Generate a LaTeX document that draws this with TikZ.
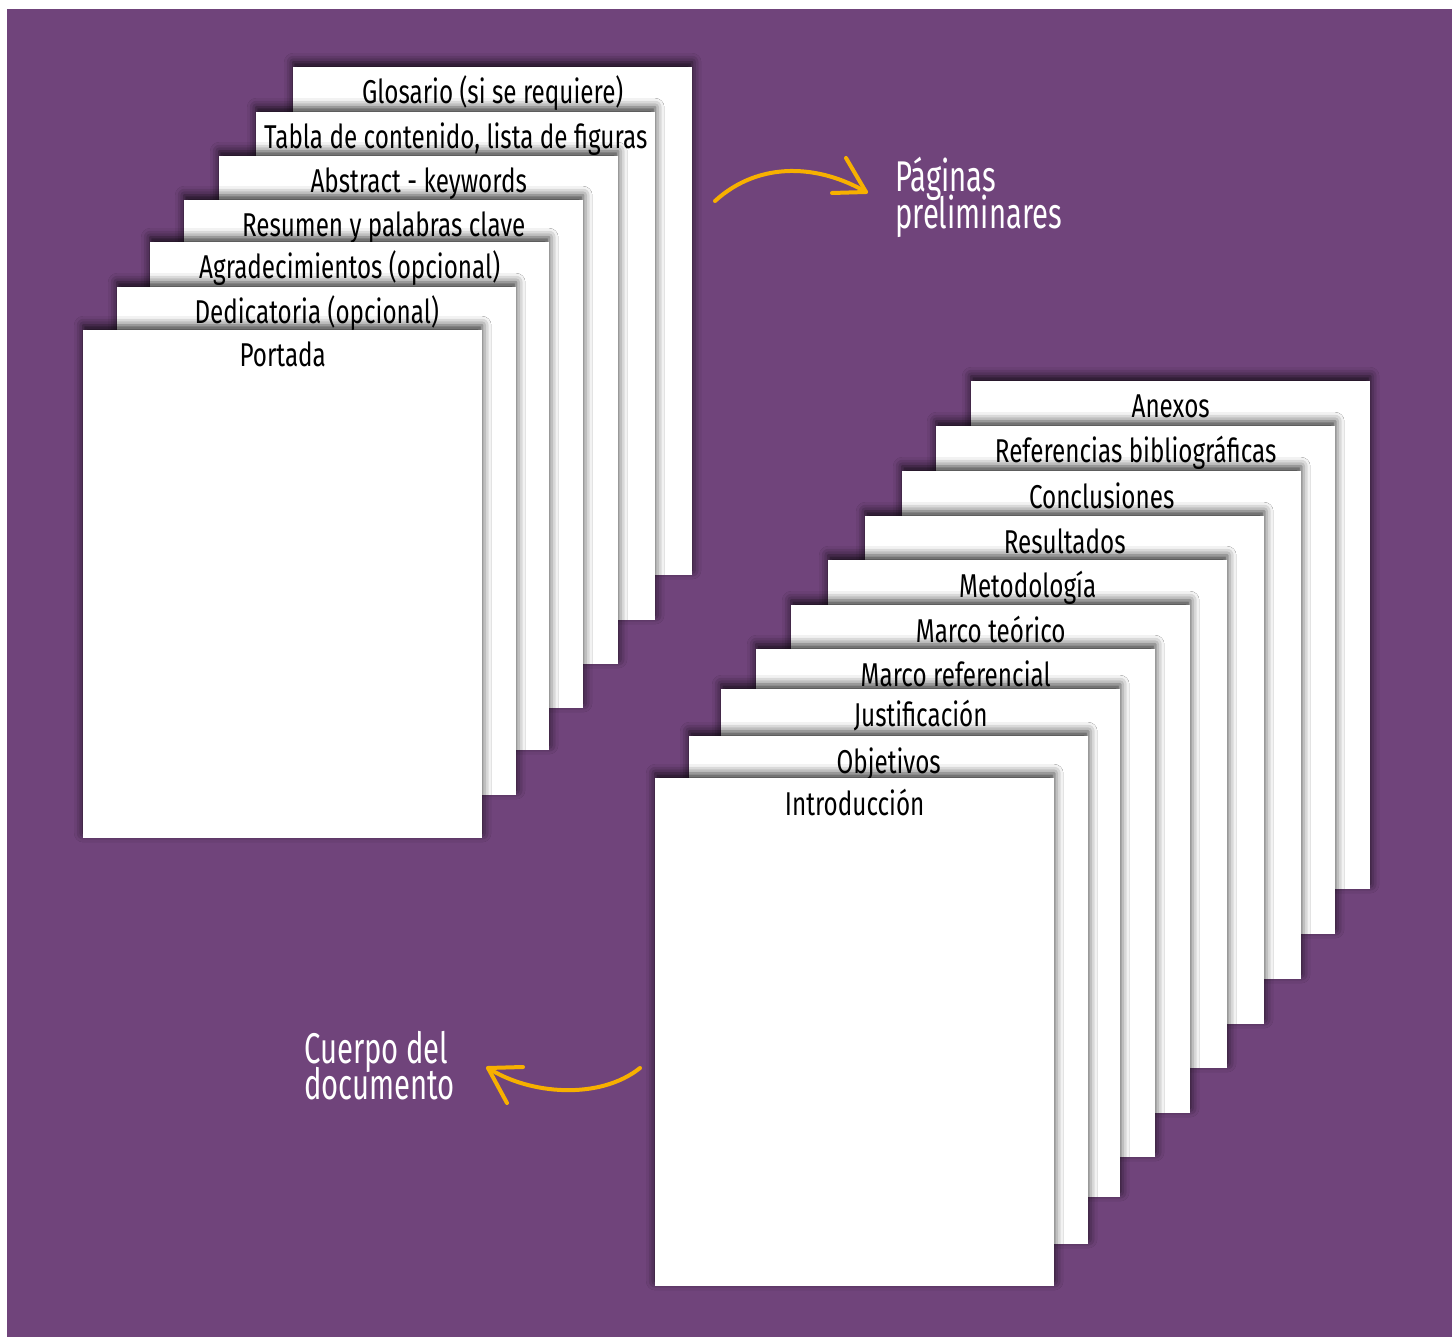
\documentclass[tikz,border=0pt]{standalone}
\usepackage{fontspec}
\usetikzlibrary{shadows.blur}
\newfontfamily\pagefont{Fira Sans}[FakeStretch=0.735]
\newfontfamily\bigfont{Fira Sans}[FakeStretch=0.68]
\definecolor{bgpurple}{HTML}{70447B}
\definecolor{arroworange}{HTML}{F7B000}
\tikzset{
  pagebox/.style={fill=white, draw=none, anchor=north west, inner sep=0pt,
    minimum width=399pt, minimum height=508pt,
    blur shadow={shadow xshift=0pt, shadow yshift=5pt, shadow blur radius=9pt, shadow opacity=80}},
  pagetext/.style={anchor=base, inner sep=0pt, text=black, font=\pagefont\fontsize{33}{36}\selectfont},
  bigtext/.style={anchor=base west, inner sep=0pt, text=white,
    font=\bigfont\fontsize{43}{37}\selectfont},
  curvearrow/.style={draw=arroworange, line width=4pt, line cap=round, line join=round},
}
\begin{document}
\begin{tikzpicture}[x=1pt,y=1pt]
\useasboundingbox (0,0) rectangle (1452,-1337);
\fill[white] (0,0) rectangle (1452,-1337);
\fill[bgpurple] (7,-9) rectangle (1452,-1337);

% left stack (back to front)
\node[pagebox] (g) at (293,-67) {};
\node[pagetext] (gt) at ([yshift=-37pt]g.north) {Glosario (si se requiere)};
\node[pagebox] (tc) at (256,-112) {};
\node[pagetext] (tct) at ([yshift=-37pt]tc.north) {Tabla de contenido, lista de figuras};
\node[pagebox] (ab) at (219,-156) {};
\node[pagetext] (abt) at ([yshift=-37pt]ab.north) {Abstract - keywords};
\node[pagebox] (rs) at (184,-200) {};
\node[pagetext] (rst) at ([yshift=-37pt]rs.north) {Resumen y palabras clave};
\node[pagebox] (ag) at (150,-242) {};
\node[pagetext] (agt) at ([yshift=-37pt]ag.north) {Agradecimientos (opcional)};
\node[pagebox] (de) at (117,-287) {};
\node[pagetext] (det) at ([yshift=-37pt]de.north) {Dedicatoria (opcional)};
\node[pagebox] (po) at (83,-330) {};
\node[pagetext] (pot) at ([yshift=-37pt]po.north) {Portada};

% right stack (back to front)
\node[pagebox] (an) at (971,-381) {};
\node[pagetext] (ant) at ([yshift=-37pt]an.north) {Anexos};
\node[pagebox] (rb) at (936,-426) {};
\node[pagetext] (rbt) at ([yshift=-37pt]rb.north) {Referencias bibliográficas};
\node[pagebox] (co) at (902,-471) {};
\node[pagetext] (cot) at ([yshift=-37pt]co.north) {Conclusiones};
\node[pagebox] (re) at (865,-516) {};
\node[pagetext] (ret) at ([yshift=-37pt]re.north) {Resultados};
\node[pagebox] (me) at (828,-560) {};
\node[pagetext] (met) at ([yshift=-37pt]me.north) {Metodología};
\node[pagebox] (mt) at (791,-605) {};
\node[pagetext] (mtt) at ([yshift=-37pt]mt.north) {Marco teórico};
\node[pagebox] (mr) at (756,-649) {};
\node[pagetext] (mrt) at ([yshift=-37pt]mr.north) {Marco referencial};
\node[pagebox] (ju) at (721,-689) {};
\node[pagetext] (jut) at ([yshift=-37pt]ju.north) {Justificación};
\node[pagebox] (ob) at (689,-736) {};
\node[pagetext] (obt) at ([yshift=-37pt]ob.north) {Objetivos};
\node[pagebox] (in) at (655,-778) {};
\node[pagetext] (int) at ([yshift=-37pt]in.north) {Introducción};

% labels
\node[bigtext] (pp1) at (895,-192) {Páginas};
\node[bigtext] (pp2) at (895,-229) {preliminares};
\node[bigtext] (cd1) at (304,-1063) {Cuerpo del};
\node[bigtext] (cd2) at (304,-1099) {documento};

% arrows
\coordinate (a1s) at (715,-201);
\coordinate (a1e) at (866,-192);
\coordinate (a1u) at (846,-158);
\coordinate (a1l) at (832,-193);
\draw[curvearrow] (a1s) .. controls (760,-160) and (820,-165) .. (a1e);
\draw[curvearrow] (a1u) -- (a1e) -- (a1l);

\coordinate (a2s) at (640,-1068);
\coordinate (a2e) at (488,-1068);
\coordinate (a2u) at (523,-1067);
\coordinate (a2d) at (507,-1103);
\draw[curvearrow] (a2s) .. controls (600,-1100) and (530,-1095) .. (a2e);
\draw[curvearrow] (a2u) -- (a2e) -- (a2d);
\end{tikzpicture}
\end{document}
